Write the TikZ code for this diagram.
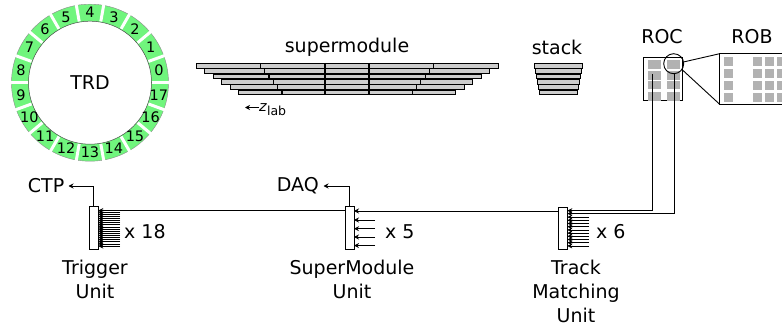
\documentclass[tikz,border=0pt]{standalone}
\usepackage{fontspec}
\setmainfont{DejaVu Sans}
\usetikzlibrary{arrows.meta,calc}
\definecolor{sect}{RGB}{112,245,125}
\definecolor{pad}{RGB}{178,178,178}
\definecolor{layerfill}{RGB}{205,205,205}
\tikzset{
  lbl/.style={font=\fontsize{19}{24}\selectfont,inner sep=0pt,align=center,text=black},
  num/.style={font=\fontsize{14.5}{14.5}\selectfont,inner sep=0pt,text=black},
  unitbox/.style={draw=black,fill=white,line width=0.9pt,minimum width=9pt,minimum height=42.5pt,inner sep=0pt,outer sep=0pt},
  wire/.style={line width=0.8pt,draw=black},
  wirein/.style={wire,-{Stealth[length=5pt,width=5pt]}},
  thinline/.style={line width=0.9pt,draw=black},
  layer/.style={draw=black,line width=0.9pt,fill=layerfill},
  padsq/.style={fill=pad,draw=none},
}
\begin{document}
\begin{tikzpicture}[x=1pt,y=-1pt]
\useasboundingbox (0,0) rectangle (782,329);
\clip (0,0) rectangle (782,329);
% --- TRD ring
\coordinate (ringc) at (90,82.7);
\fill[sect,even odd rule] (ringc) circle[radius=78.5pt] (ringc) circle[radius=61.5pt];
\draw[line width=0.5pt,black!70] (ringc) circle[radius=61.5pt];
\draw[line width=0.4pt,black!45] (ringc) circle[radius=78.5pt];
\foreach \k in {0,...,17}{
  \draw[white,line width=3pt] ($(ringc)+({62.2*cos(20*\k)},{-62.2*sin(20*\k)})$) -- ($(ringc)+({80*cos(20*\k)},{-80*sin(20*\k)})$);
  \node[num] (s\k) at ($(ringc)+({70*cos(10+20*\k)},{-70*sin(10+20*\k)})$) {\k};
}
\node[lbl] (trd) at (ringc) {TRD};
% --- supermodule
\node[lbl] (sm) at (347,47) {supermodule};
\foreach \i in {0,...,5}{
  \pgfmathsetmacro{\ya}{63.4+\i*5.33}
  \pgfmathsetmacro{\yb}{\ya+4.6}
  \pgfmathsetmacro{\xa}{196+\i*8.5}
  \pgfmathsetmacro{\xb}{498.3-\i*8.55}
  \pgfmathsetmacro{\sa}{260.3+\i*4.33}
  \pgfmathsetmacro{\sb}{433.7-\i*4.27}
  \draw[layer] (\xa,\ya) rectangle (\xb,\yb);
  \foreach \s in {\sa,325,369,\sb}{
    \draw[black,line width=1.2pt] (\s,\ya-0.6) -- (\s,\yb+0.6);
  }
}
\node[inner sep=0pt,anchor=west,text=black] (zlab) at (259,110) {\fontsize{14.5}{14.5}\selectfont\textit{z}\raisebox{-4pt}{\fontsize{12.5}{12.5}\selectfont lab}};
\coordinate (zend) at (245,107.5);
\draw[wirein] (zlab.west |- zend) -- (zend);
% --- stack
\node[lbl] (stk) at (557,47) {stack};
\foreach \i in {0,...,5}{
  \pgfmathsetmacro{\ya}{63.5+\i*5.33}
  \pgfmathsetmacro{\yb}{\ya+4.6}
  \pgfmathsetmacro{\xa}{534.5+\i*1.0}
  \pgfmathsetmacro{\xb}{582.5-\i*1.0}
  \draw[layer] (\xa,\ya) rectangle (\xb,\yb);
}
% --- ROC
\node[lbl] (roctxt) at (662,37) {ROC};
\node[lbl] (robtxt) at (752,37) {ROB};
\node[draw=black,line width=0.9pt,minimum width=38.6pt,minimum height=42.6pt,inner sep=0pt,outer sep=0pt] (roc) at (663,79) {};
\foreach \x in {648.3,667.3}{
  \foreach \y/\h in {60/9,71.5/8.5,81/8.5,91.7/9.3}{
    \fill[padsq] (\x,\y) rectangle ++(12.6,\h);
  }
}
% --- ROB
\node[draw=black,fill=white,line width=0.9pt,minimum width=90pt,minimum height=50.6pt,inner sep=0pt,outer sep=0pt] (rob) at (764.7,79) {};
\foreach \x in {724.3,753,765,777.3}{
  \foreach \y in {57,69,81,93}{
    \fill[padsq] (\x,\y) rectangle ++(8.7,8.7);
  }
}
\node[draw=black,line width=0.9pt,circle,minimum size=20pt,inner sep=0pt,outer sep=0pt] (zoomc) at (673.7,63.7) {};
\draw[thinline] (zoomc.10) -- (rob.north west);
\draw[thinline] (zoomc.-35) -- (rob.south west);
% --- Units
\node[unitbox] (tu) at (93.8,228) {};
\node[unitbox] (smu) at (349.5,228) {};
\node[unitbox] (tmu) at (562.8,228.5) {};
% trigger wires
\foreach \i in {1,...,17}{
  \pgfmathsetmacro{\y}{210+\i*2.12}
  \coordinate (w) at (120,\y);
  \draw[wirein] (w) -- (tu.east |- w);
}
% bus: TMU to SMU to TU
\coordinate (bus) at (0,210.5);
\draw[wirein] (smu.west |- bus) -- (tu.east |- bus);
\coordinate (busb) at (0,211);
\draw[wirein] (tmu.west |- busb) -- (smu.east |- busb);
% SMU wires
\foreach \y in {220,228.7,237,245.6}{
  \coordinate (w) at (375,\y);
  \draw[wirein] (w) -- (smu.east |- w);
}
% TMU wires
\foreach \i in {2,...,11}{
  \pgfmathsetmacro{\y}{210.7+\i*3.2}
  \coordinate (w) at (589,\y);
  \draw[wirein] (w) -- (tmu.east |- w);
}
\coordinate (ta) at (652.5,74.3);
\coordinate (tb) at (674,73.3);
\coordinate (ya) at (0,210.7);
\coordinate (yb) at (0,213.6);
\draw[wirein] (ta) -- (ta |- ya) -- (tmu.east |- ya);
\draw[wirein] (tb) -- (tb |- yb) -- (tmu.east |- yb);
% --- CTP / DAQ
\node[lbl,anchor=east] (ctp) at (64.5,186) {CTP};
\node[lbl,anchor=east] (daq) at (319,186) {DAQ};
\draw[wirein] (tu.north) |- ([xshift=4pt]ctp.east);
\draw[wirein] (smu.north) |- ([xshift=4.5pt]daq.east);
% --- multiplicity and names
\node[lbl,anchor=west] (x18) at (124,232) {x 18};
\node[lbl,anchor=west] (x5) at (385,232) {x 5};
\node[lbl,anchor=west] (x6) at (596,232) {x 6};
\node[lbl] (tun) at (95,279) {Trigger\\Unit};
\node[lbl] (smn) at (352,279) {SuperModule\\Unit};
\node[lbl] (tmn) at (576,291) {Track\\Matching\\Unit};
\end{tikzpicture}
\end{document}
